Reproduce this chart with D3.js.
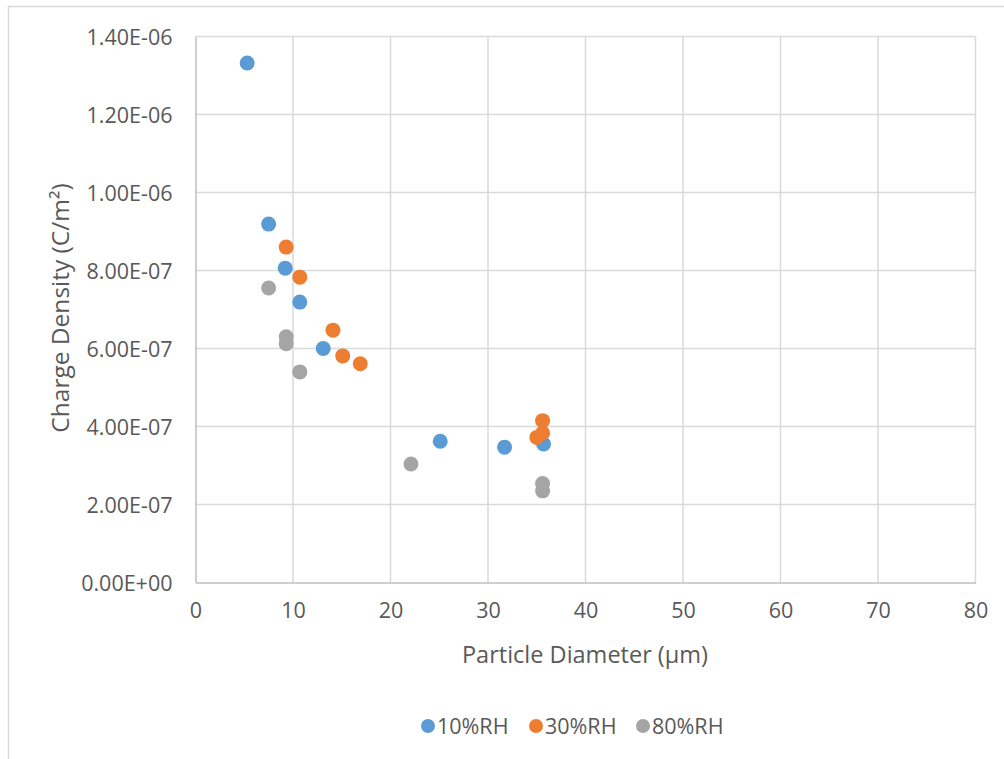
<!DOCTYPE html>
<html>
<head>
<meta charset="utf-8">
<script src="https://cdn.jsdelivr.net/npm/d3@7"></script>
<style>
  body { margin: 0; background: #fff; }
  text { font-family: "Open Sans", "Liberation Sans", sans-serif; fill: #595959; }
</style>
</head>
<body>
<div id="chart"></div>
<script>
// series: [diameter (um), charge density (C/m2)]
var rh10 = [
  [5.3, 1.332e-6], [7.5, 0.919e-6], [9.2, 0.806e-6], [10.7, 0.719e-6],
  [13.1, 0.600e-6], [25.1, 0.362e-6], [31.7, 0.347e-6], [35.7, 0.355e-6]
];
var rh30 = [
  [9.3, 0.860e-6], [10.7, 0.783e-6], [14.1, 0.647e-6], [15.1, 0.581e-6],
  [16.9, 0.561e-6], [35.6, 0.415e-6], [35.6, 0.383e-6], [35.0, 0.372e-6]
];
var rh80 = [
  [7.5, 0.755e-6], [9.3, 0.630e-6], [9.3, 0.612e-6], [10.7, 0.540e-6],
  [22.1, 0.304e-6], [35.6, 0.254e-6], [35.6, 0.235e-6]
];
var seriesNames = ['10%RH', '30%RH', '80%RH'];
var seriesColors = ['#5B9BD5', '#ED7D31', '#A5A5A5'];
var xTicks = [0, 10, 20, 30, 40, 50, 60, 70, 80];
var yTicks = [0, 2e-7, 4e-7, 6e-7, 8e-7, 1e-6, 1.2e-6, 1.4e-6];

var width = 1004, height = 759;
var margin = {left: 195.5, right: 28.5, top: 36.5, bottom: 176.5};

var svg = d3.select('#chart')
  .append('svg')
  .attr('width', width)
  .attr('height', height);

// chart frame (only left and top edges are in view)
svg.append('rect')
  .attr('x', 8.5).attr('y', 6.5)
  .attr('width', 1100).attr('height', 900)
  .attr('fill', 'none')
  .attr('stroke', '#D9D9D9')
  .attr('stroke-width', 1.5);

var x = d3.scaleLinear().domain([0, 80]).range([margin.left, width - margin.right]);
var y = d3.scaleLinear().domain([0, 1.4e-6]).range([height - margin.bottom, margin.top]);

// gridlines
svg.append('g')
  .selectAll('line.v')
  .data(xTicks.slice(1))
  .enter().append('line')
  .attr('x1', function(d){ return x(d) }).attr('x2', function(d){ return x(d) })
  .attr('y1', y(0)).attr('y2', y(1.4e-6))
  .attr('stroke', '#D9D9D9').attr('stroke-width', 1.5);

svg.append('g')
  .selectAll('line.h')
  .data(yTicks.slice(1))
  .enter().append('line')
  .attr('x1', x(0)).attr('x2', x(80))
  .attr('y1', function(d){ return y(d) }).attr('y2', function(d){ return y(d) })
  .attr('stroke', '#D9D9D9').attr('stroke-width', 1.5);

// axes
var xAxis = svg.append('g')
  .attr('transform', 'translate(0,' + y(0) + ')')
  .call(d3.axisBottom(x).tickValues(xTicks).tickSize(0).tickPadding(20));
var yAxis = svg.append('g')
  .attr('transform', 'translate(' + x(0) + ',0)')
  .call(d3.axisLeft(y).tickValues(yTicks).tickSize(0).tickPadding(23)
    .tickFormat(function(d){
      var s = d.toExponential(2).toUpperCase().split('E');
      var e = +s[1];
      return s[0] + 'E' + (e < 0 ? '-' : '+') + String(Math.abs(e)).padStart(2, '0');
    }));

[xAxis, yAxis].forEach(function(a){
  a.select('.domain').attr('stroke', '#BFBFBF').attr('stroke-width', 1.5);
  a.selectAll('text').attr('font-size', 21.5).attr('fill', '#595959')
    .style('font-family', '"Open Sans", sans-serif');
});
yAxis.selectAll('text').attr('dy', '0.35em');

// axis titles
svg.append('text')
  .attr('x', 585).attr('y', 663)
  .attr('text-anchor', 'middle')
  .attr('font-size', 23.5)
  .text('Particle Diameter (μm)');

svg.append('text')
  .attr('transform', 'translate(69,308) rotate(-90)')
  .attr('text-anchor', 'middle')
  .attr('font-size', 24.5)
  .text('Charge Density (C/m²)');

// points
var allSeries = [rh10, rh30, rh80];
allSeries.forEach(function(data, i){
  svg.append('g')
    .selectAll('circle')
    .data(data)
    .enter().append('circle')
    .attr('cx', function(d){ return x(d[0]) })
    .attr('cy', function(d){ return y(d[1]) })
    .attr('r', 7.5)
    .attr('fill', seriesColors[i]);
});

// legend
var legendX = [428, 536, 643];
var legend = svg.append('g');
seriesNames.forEach(function(name, i){
  legend.append('circle')
    .attr('cx', legendX[i]).attr('cy', 726)
    .attr('r', 7)
    .attr('fill', seriesColors[i]);
  legend.append('text')
    .attr('x', legendX[i] + 9).attr('y', 733.5)
    .attr('font-size', 21.5)
    .text(name);
});
</script>
</body>
</html>
